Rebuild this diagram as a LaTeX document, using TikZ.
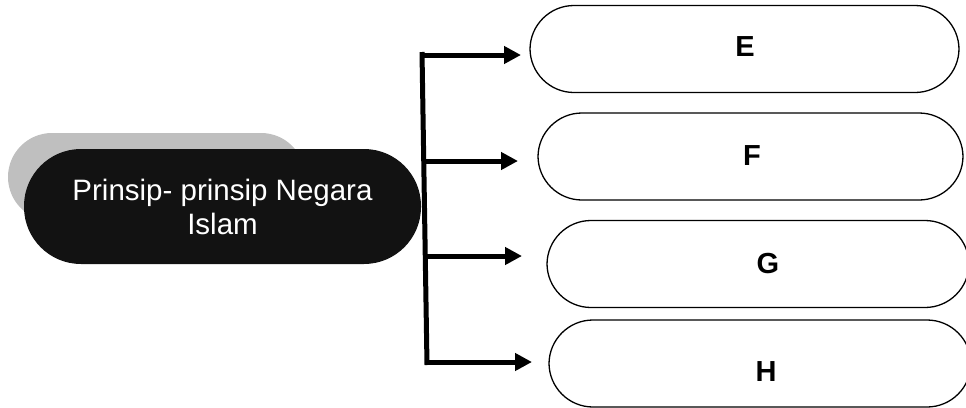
\documentclass[tikz,border=0pt]{standalone}
\usepackage{fontspec}
\setmainfont{Liberation Sans}
\usetikzlibrary{arrows.meta}
\begin{document}
\begin{tikzpicture}[x=1pt,y=-1pt,
  pill/.style={draw=black,line width=1.3pt,fill=white,rounded corners=44pt,minimum height=87pt,inner sep=0pt},
  lbl/.style={font=\fontsize{29}{32}\selectfont\bfseries},
  arr/.style={line width=5pt,-{Triangle[length=17pt,width=17pt]}}]
\useasboundingbox (0,0) rectangle (966,407);
% shadow and main node
\fill[gray!50!white,rounded corners=44pt] (8,133) rectangle (305,221);
\node[fill=black!93,rounded corners=57pt,minimum width=397pt,minimum height=115pt,inner sep=0pt,
      text=white,align=center,font=\fontsize{29.5}{34}\selectfont] (main) at (222.5,206.5)
      {Prinsip- prinsip Negara\\Islam};
% right pills
\node[pill,minimum width=429pt] (E) at (744.5,49) {};
\node[pill,minimum width=425pt] (F) at (750.5,156.5) {};
\node[pill,minimum width=422pt] (G) at (758,264) {};
\node[pill,minimum width=422pt] (H) at (760,363.5) {};
\node[lbl] (tE) at (745,47) {E};
\node[lbl] (tF) at (752,156) {F};
\node[lbl] (tG) at (768,264) {G};
\node[lbl] (tH) at (766,372) {H};
% trunk
\coordinate (top) at (422,52);
\coordinate (bot) at (427,365);
\draw[line width=5pt] (top) -- (bot);
\coordinate (aE) at (422,55);
\coordinate (aF) at (424,161);
\coordinate (aG) at (426,256);
\coordinate (aH) at (427,362);
\draw[arr] (aE) -- (521,55);
\draw[arr] (aF) -- (518,161);
\draw[arr] (aG) -- (522,256);
\draw[arr] (aH) -- (532,362);
\end{tikzpicture}
\end{document}
